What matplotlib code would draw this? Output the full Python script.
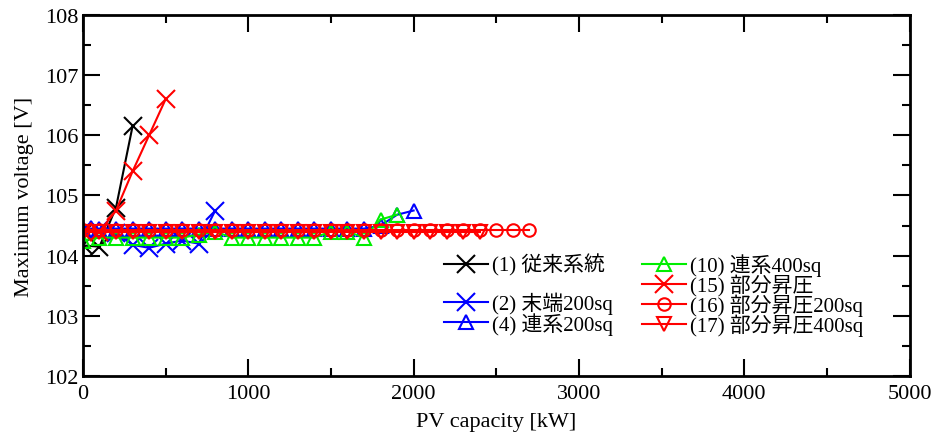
import matplotlib
matplotlib.use("Agg")
import matplotlib.pyplot as plt
from matplotlib.lines import Line2D
from matplotlib.ticker import MultipleLocator

plt.rcParams['font.family'] = ['Liberation Serif', 'Noto Sans CJK JP']
plt.rcParams['font.size'] = 16

# data ------------------------------------------------------------------------
x_1 = [0, 100, 200, 300]
v_1 = [104.17, 104.15, 104.8, 106.15]

x_2 = [0, 100, 200, 300, 400, 500, 600, 700, 800]
v_2 = [104.42, 104.42, 104.38, 104.18, 104.13, 104.2, 104.25, 104.2, 104.75]

x_4 = list(range(0, 2001, 100))
v_4 = [104.45, 104.45, 104.45, 104.45, 104.45, 104.45, 104.45, 104.45, 104.45,
       104.45, 104.45, 104.45, 104.45, 104.45, 104.45, 104.45, 104.45, 104.45,
       104.5, 104.68, 104.75]

x_10 = list(range(0, 1901, 100))
v_10 = [104.25, 104.3, 104.3, 104.3, 104.3, 104.3, 104.3, 104.35, 104.4, 104.3,
        104.3, 104.3, 104.3, 104.3, 104.3, 104.4, 104.4, 104.3, 104.6, 104.68]

x_15 = [0, 100, 200, 300, 400, 500]
v_15 = [104.4, 104.4, 104.75, 105.4, 106.0, 106.6]

x_16 = list(range(0, 2701, 100))
v_16 = [104.42] * len(x_16)

x_17 = list(range(0, 2401, 100))
v_17 = [104.4] * len(x_17)

# plot ------------------------------------------------------------------------
fig = plt.figure(figsize=(9.32, 4.35), dpi=100)
ax = fig.add_axes([0.089, 0.1333, 0.887, 0.83])

kw = dict(lw=1.5, mew=1.5, mfc='none')
l1, = ax.plot(x_1, v_1, color='black', marker='x', ms=13, **kw)
l2, = ax.plot(x_2, v_2, color='blue', marker='x', ms=13, **kw)
l4, = ax.plot(x_4, v_4, color='blue', marker='^', ms=10, **kw)
l10, = ax.plot(x_10, v_10, color='#00ee00', marker='^', ms=10, **kw)
l15, = ax.plot(x_15, v_15, color='red', marker='x', ms=13, **kw)
l16, = ax.plot(x_16, v_16, color='red', marker='o', ms=9, **kw)
l17, = ax.plot(x_17, v_17, color='red', marker='v', ms=10, **kw)

blank = Line2D([], [], color='none')
handles = [l1, blank, l2, l4, l10, l15, l16, l17]
labels = ['(1) 従来系統', ' ', '(2) 末端200sq', '(4) 連系200sq',
          '(10) 連系400sq', '(15) 部分昇圧', '(16) 部分昇圧200sq', '(17) 部分昇圧400sq']
ax.legend(handles, labels, ncol=2, loc='upper left', bbox_to_anchor=(0.424, 0.369),
          frameon=False, handlelength=2.1, handletextpad=0.2, labelspacing=-0.1,
          columnspacing=1.4, borderpad=0.0, fontsize=15)

ax.set_xlim(0, 5000)
ax.set_ylim(102, 108)
ax.xaxis.set_major_locator(MultipleLocator(1000))
ax.xaxis.set_minor_locator(MultipleLocator(500))
ax.yaxis.set_major_locator(MultipleLocator(1))
ax.yaxis.set_minor_locator(MultipleLocator(0.5))
ax.tick_params(which='both', direction='in', top=True, right=True, width=1.5)
ax.tick_params(which='major', length=12)
ax.tick_params(which='minor', length=6)
ax.tick_params(axis='x', pad=6)
for s in ax.spines.values():
    s.set_linewidth(2)

ax.set_xlabel('PV capacity [kW]', labelpad=6)
ax.set_ylabel('Maximum voltage [V]', labelpad=8)

fig.savefig('out.png', dpi=100)
